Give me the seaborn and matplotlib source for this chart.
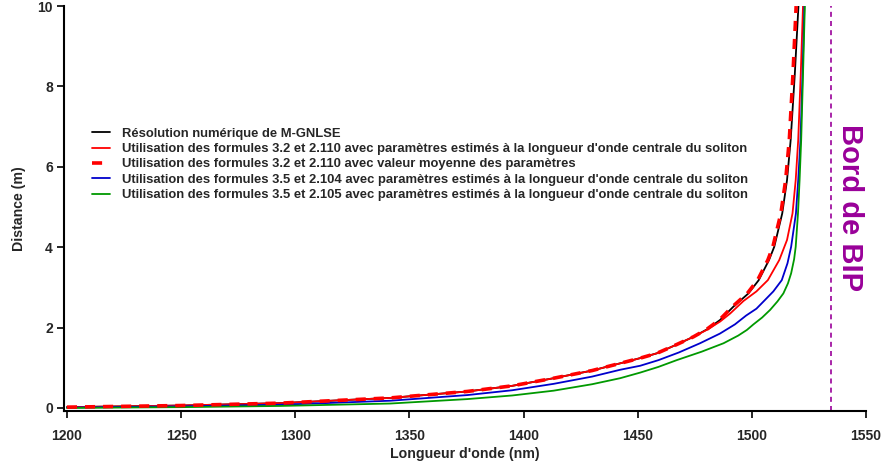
import seaborn as sns
import matplotlib.pyplot as plt
import pandas as pd

# wavelength (nm) / distance (m)
lam_num = [1200, 1250, 1293.6, 1341.7, 1375.3, 1395, 1413.2, 1430, 1442.3, 1451.1, 1458.4,
           1466, 1474.4, 1480.5, 1486.1, 1491.9, 1498.5, 1503.0, 1507.5, 1509.8, 1513.3,
           1515.4, 1517.0, 1518.8, 1520.4]
d_num = [0.02, 0.06, 0.12, 0.25, 0.41, 0.55, 0.74, 0.93, 1.11, 1.24, 1.36,
         1.55, 1.77, 1.96, 2.19, 2.52, 2.85, 3.18, 3.68, 4.01, 4.84,
         5.67, 6.67, 8.3, 10.0]

lam_32 = [1200, 1250, 1293.6, 1341.7, 1375.3, 1395, 1413.2, 1430, 1442.3, 1451.1, 1458.4,
          1466, 1474.4, 1480.5, 1486.1, 1490.5, 1496.3, 1502.0, 1507.0, 1512.0, 1515.4,
          1517.8, 1519.2, 1520.3, 1521.4, 1522.4]
d_32 = [0.02, 0.06, 0.12, 0.25, 0.41, 0.55, 0.74, 0.93, 1.11, 1.24, 1.36,
        1.55, 1.77, 1.95, 2.15, 2.35, 2.66, 2.9, 3.18, 3.68, 4.18,
        4.84, 5.67, 6.67, 8.3, 10.0]

lam_32m = [1200, 1250, 1293.6, 1341.7, 1375.3, 1395, 1413.2, 1430, 1442.3, 1451.1, 1458.4,
           1466, 1474.4, 1480.3, 1485.8, 1491.5, 1498.0, 1502.5, 1507.0, 1509.2, 1512.7,
           1514.8, 1516.4, 1518.0, 1519.4]
d_32m = [0.02, 0.06, 0.12, 0.25, 0.41, 0.55, 0.74, 0.93, 1.11, 1.24, 1.36,
         1.55, 1.77, 1.96, 2.19, 2.52, 2.85, 3.18, 3.68, 4.01, 4.84,
         5.67, 6.67, 8.3, 10.0]

lam_35a = [1200, 1250, 1293.6, 1341.7, 1375.3, 1395, 1413.2, 1430, 1442.3, 1451.1, 1459.1,
           1468, 1477.3, 1486, 1492.6, 1497.5, 1502, 1505.8, 1509.4, 1513.1, 1515.6,
           1517.2, 1519.3, 1520.3, 1521.3, 1522.2, 1523.0]
d_35a = [0.01, 0.04, 0.08, 0.18, 0.32, 0.44, 0.60, 0.78, 0.95, 1.05, 1.19,
         1.38, 1.61, 1.85, 2.08, 2.30, 2.47, 2.69, 2.90, 3.18, 3.6,
         4.01, 4.84, 5.67, 6.67, 8.3, 10.0]

lam_35b = [1200, 1250, 1293.6, 1341.7, 1375.3, 1395, 1413.2, 1430, 1442.3, 1451.1, 1459,
           1467.1, 1478, 1487.6, 1494, 1497.8, 1500.7, 1504.5, 1508.0, 1511.2, 1513.8,
           1515.8, 1517.2, 1518.5, 1519.2, 1520.2, 1520.9, 1521.6, 1522.4, 1523.2]
d_35b = [0.0, 0.02, 0.05, 0.11, 0.22, 0.31, 0.43, 0.59, 0.74, 0.88, 1.02,
         1.19, 1.40, 1.61, 1.80, 1.94, 2.08, 2.25, 2.44, 2.65, 2.85,
         3.10, 3.35, 3.7, 4.01, 4.84, 5.67, 6.67, 8.3, 10.0]

bip_edge = 1534.5

labels = [
    "Résolution numérique de M-GNLSE",
    "Utilisation des formules 3.2 et 2.110 avec paramètres estimés à la longueur d'onde centrale du soliton",
    "Utilisation des formules 3.2 et 2.110 avec valeur moyenne des paramètres",
    "Utilisation des formules 3.5 et 2.104 avec paramètres estimés à la longueur d'onde centrale du soliton",
    "Utilisation des formules 3.5 et 2.105 avec paramètres estimés à la longueur d'onde centrale du soliton",
]

sns.set_style("ticks")
plt.rcParams['font.family'] = ['Liberation Sans', 'DejaVu Sans']
plt.rcParams['font.weight'] = 'bold'

fig = plt.figure(figsize=(8.81, 4.67), dpi=100)
ax = fig.add_axes([0.0726, 0.12, 0.9104, 0.867])

curves = [
    (lam_num, d_num, 'black', 0),
    (lam_32, d_32, '#ff0000', 1),
    (lam_35a, d_35a, '#0000cc', 3),
    (lam_35b, d_35b, '#009900', 4),
]
for x, y, c, i in curves:
    df = pd.DataFrame({'lam': x, 'd': y})
    sns.lineplot(data=df, x='lam', y='d', color=c, linewidth=1.3,
                 ax=ax, label=labels[i], sort=False)
df = pd.DataFrame({'lam': lam_32m, 'd': d_32m})
sns.lineplot(data=df, x='lam', y='d', color='#ff0000', linewidth=2.6, ax=ax,
             label=labels[2], sort=False)
ax.lines[-1].set_dashes([2.8, 2.2])
for ln in ax.lines:
    ln.set_solid_joinstyle('round')

ax.axvline(bip_edge, color='#990099', linewidth=1.2, dashes=(3, 2.5))
ax.text(1542.8, 5.0, "Bord de BIP", rotation=-90, color='#990099', fontsize=21,
        fontweight='bold', ha='center', va='center')

ax.set_xlim(1198.7, 1550)
ax.set_ylim(-0.075, 10)
ax.set_xticks([1200, 1250, 1300, 1350, 1400, 1450, 1500, 1550])
ax.set_yticks([0, 2, 4, 6, 8, 10])
ax.set_xlabel("Longueur d'onde (nm)", fontsize=10.2, fontweight='bold', labelpad=3)
ax.set_ylabel("Distance (m)", fontsize=10.2, fontweight='bold', labelpad=8)
ax.tick_params(labelsize=10, width=1.2, length=5, color='black')
ax.tick_params(axis='x', pad=8)
ax.tick_params(axis='y', pad=3)
for t in ax.get_xticklabels() + ax.get_yticklabels():
    t.set_fontweight('bold')
sns.despine(ax=ax)
for s in ['left', 'bottom']:
    ax.spines[s].set_linewidth(1.5)
    ax.spines[s].set_color('black')

handles, labs = ax.get_legend_handles_labels()
idx = [labs.index(l) for l in labels]
leg = ax.legend([handles[i] for i in idx], [labs[i] for i in idx],
                loc='upper left', bbox_to_anchor=(0.035, 0.7), frameon=False,
                fontsize=9.4, handlelength=1.4, handletextpad=0.9, labelspacing=0.25,
                borderaxespad=0, borderpad=0)
for t in leg.get_texts():
    t.set_fontweight('bold')

fig.savefig("out.png", dpi=100)
